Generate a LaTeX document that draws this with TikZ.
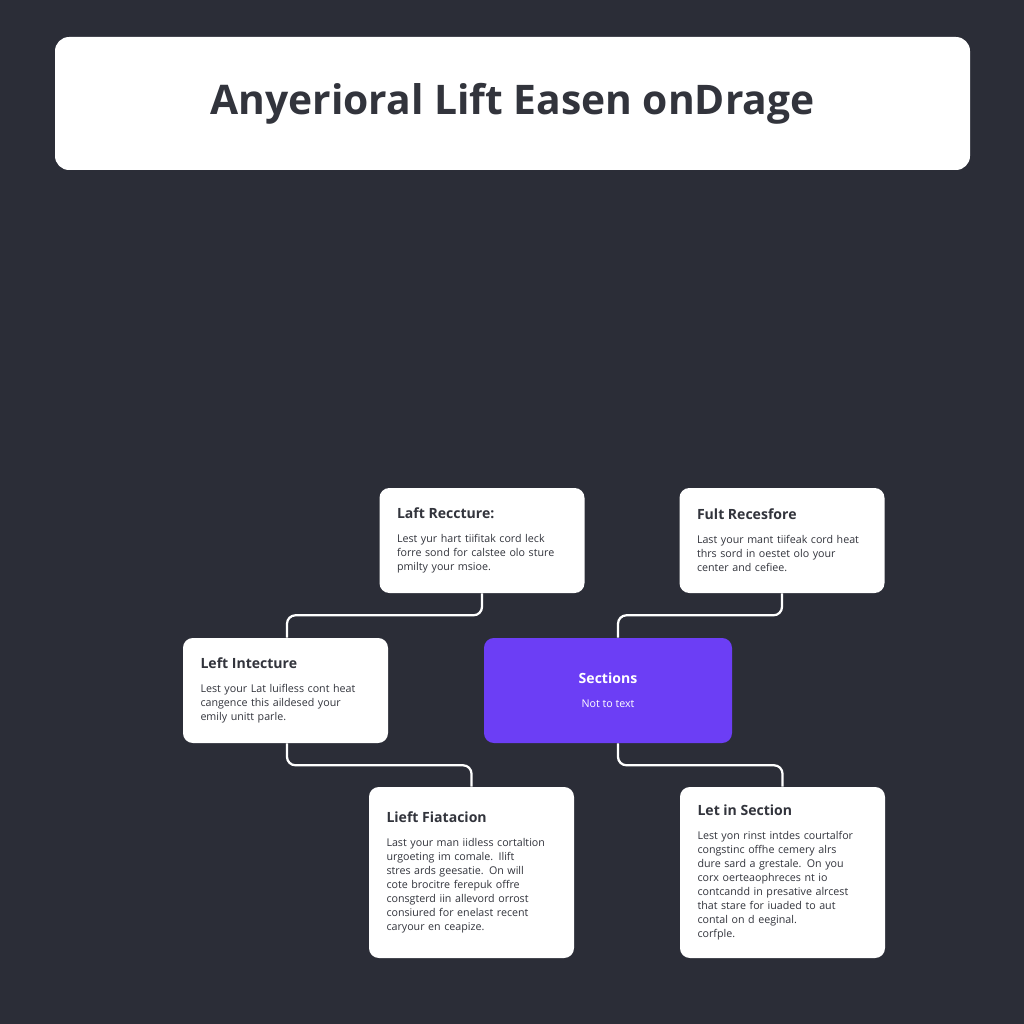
\documentclass[tikz,border=0pt]{standalone}
\usepackage{fontspec}
\setmainfont{Open Sans}
\usepackage{xcolor}
\definecolor{bgdark}{RGB}{43,45,55}
\definecolor{violet}{RGB}{108,62,245}
\definecolor{inkgray}{RGB}{50,52,60}
\usetikzlibrary{positioning}
\newcommand{\cardhead}[1]{{\fontsize{10}{12}\selectfont\bfseries #1}}

\begin{document}
\begin{tikzpicture}[x=0.025cm,y=-0.025cm,
  card/.style={fill=white,rounded corners=7pt,minimum width=205*0.025cm,minimum height=105*0.025cm,
    text width=170*0.025cm,align=left,inner sep=0pt,font=\fontsize{7.6}{10}\selectfont,text=inkgray},
  tall/.style={card,minimum height=171*0.025cm},
  link/.style={white,line width=1.6pt,rounded corners=6pt}]
  \fill[bgdark] (0,0) rectangle (1024,1024);
  \useasboundingbox (0,0) rectangle (1024,1024);
  % title bar
  \node[fill=white,rounded corners=10pt,minimum width=915*0.025cm,minimum height=133*0.025cm,
    font=\fontsize{29}{34}\selectfont\bfseries,text=inkgray] (title) at (512.5,103.5) {Anyerioral Lift Easen onDrage};
  % cards
  \node[card] (lr) at (482,540.5) {\cardhead{Laft Reccture:}\\[7pt]Lest yur hart tiifitak cord leck\\forre sond for calstee olo sture\\pmilty your msioe.};
  \node[card] (fr) at (782,540.5) {\cardhead{Fult Recesfore}\\[7pt]Last your mant tiifeak cord heat\\thrs sord in oestet olo your\\center and cefiee.};
  \node[card] (li) at (285.5,690.5) {\cardhead{Left Intecture}\\[7pt]Lest your Lat luifless cont heat\\cangence this aildesed your\\emily unitt parle.};
  \node[fill=violet,rounded corners=7pt,minimum width=248*0.025cm,minimum height=105*0.025cm,
    align=center,text=white,font=\fontsize{7.6}{10}\selectfont] (sec) at (608,690.5) {\cardhead{Sections}\\[7pt]Not to text};
  \node[tall] (lf) at (471.5,872.5) {\cardhead{Lieft Fiatacion}\\[7pt]Last your man iidless cortaltion\\urgoeting im comale. Ilift\\stres ards geesatie. On will\\cote brocitre ferepuk offre\\consgterd iin allevord orrost\\consiured for enelast recent\\caryour en ceapize.};
  \node[tall] (ls) at (782.5,872.5) {\cardhead{Let in Section}\\[7pt]Lest yon rinst intdes courtalfor\\congstinc offhe cemery alrs\\dure sard a grestale. On you\\corx oerteaophreces nt io\\contcandd in presative alrcest\\that stare for iuaded to aut\\contal on d eeginal.\\corfple.};
  % links
  \draw[link] (lr.south) -- ++(0,22) -| ([xshift=1.5*0.025cm]li.north);
  \draw[link] (fr.south) -- ++(0,22) -| ([xshift=10*0.025cm]sec.north);
  \draw[link] ([xshift=1.5*0.025cm]li.south) -- ++(0,22) -| (lf.north);
  \draw[link] ([xshift=10*0.025cm]sec.south) -- ++(0,22) -| (ls.north);
\end{tikzpicture}
\end{document}
